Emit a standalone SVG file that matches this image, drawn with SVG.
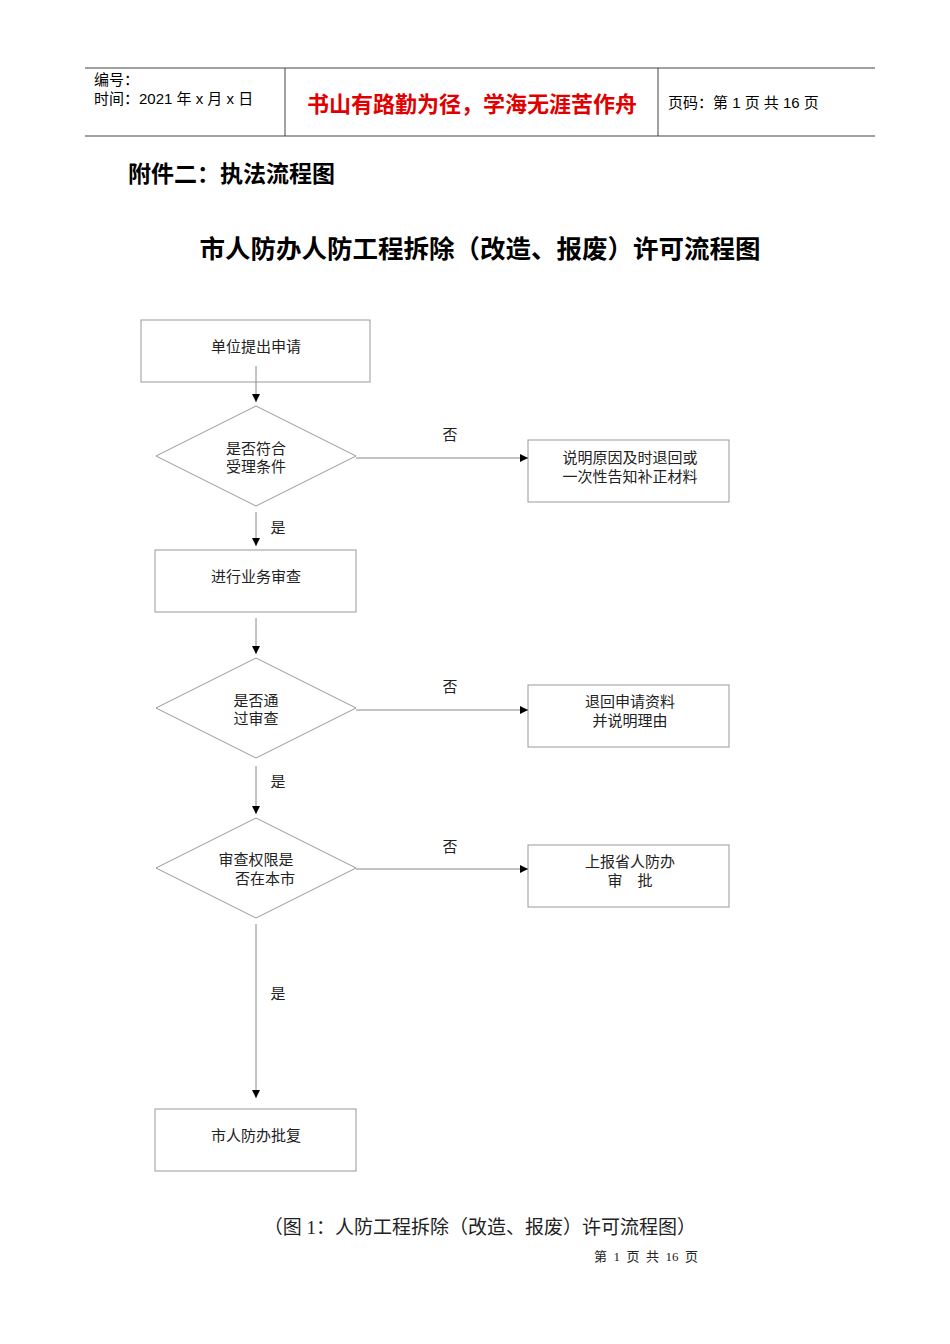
<svg xmlns="http://www.w3.org/2000/svg" width="950" height="1344" viewBox="0 0 950 1344">
<style>
.n{fill:#fff;stroke:#999;stroke-width:1}
.t{font-family:"Liberation Serif","Noto Sans CJK SC",serif;font-size:15px;fill:#222;text-anchor:middle}
.h{font-family:"Liberation Sans","Noto Sans CJK SC",sans-serif;font-size:15px;fill:#000}
.c line{stroke:#888;stroke-width:1;marker-end:url(#a)}
</style>
<defs><marker id="a" viewBox="0 0 10 10" refX="10" refY="5" markerWidth="8" markerHeight="8" orient="auto" markerUnits="userSpaceOnUse"><path d="M0,0L10,5L0,10z" fill="#000"/></marker></defs>
<rect width="950" height="1344" fill="#fff"/>
<g id="header">
<line x1="85" y1="68" x2="875" y2="68" stroke="#444"/>
<line x1="85" y1="136" x2="875" y2="136" stroke="#444"/>
<line x1="285" y1="68" x2="285" y2="136" stroke="#444"/>
<line x1="658" y1="68" x2="658" y2="136" stroke="#444"/>
<text class="h" x="94" y="85">编号：</text>
<text class="h" x="94" y="104">时间：2021 年 x 月 x 日</text>
<text x="472" y="112" text-anchor="middle" font-family="Liberation Sans,Noto Sans CJK SC,sans-serif" font-size="22" fill="#e00000" font-weight="bold">书山有路勤为径，学海无涯苦作舟</text>
<text class="h" x="668" y="108">页码：第 1 页  共 16 页</text>
</g>
<text x="128" y="182" font-family="Noto Sans CJK SC,sans-serif" font-size="23" font-weight="bold" fill="#000">附件二：执法流程图</text>
<text x="480" y="258" text-anchor="middle" font-family="Noto Sans CJK SC,serif" font-size="25.5" font-weight="bold" fill="#000">市人防办人防工程拆除（改造、报废）许可流程图</text>
<g id="n1"><rect class="n" x="141" y="320" width="229" height="62"/><text class="t" x="256" y="352">单位提出申请</text></g>
<g id="d1"><polygon class="n" points="256,406 356,456 256,506 156,456"/><text class="t" x="256" y="454">是否符合</text><text class="t" x="256" y="472">受理条件</text></g>
<g id="r1"><rect class="n" x="528" y="440" width="201" height="62"/><text class="t" x="630" y="463">说明原因及时退回或</text><text class="t" x="630" y="482">一次性告知补正材料</text></g>
<g id="n2"><rect class="n" x="155" y="550" width="201" height="62"/><text class="t" x="256" y="582">进行业务审查</text></g>
<g id="d2"><polygon class="n" points="256,658 356,708 256,758 156,708"/><text class="t" x="256" y="706">是否通</text><text class="t" x="256" y="724">过审查</text></g>
<g id="r2"><rect class="n" x="528" y="685" width="201" height="62"/><text class="t" x="630" y="707">退回申请资料</text><text class="t" x="630" y="726">并说明理由</text></g>
<g id="d3"><polygon class="n" points="256,818 356,868 256,918 156,868"/><text class="t" x="256" y="865">审查权限是</text><text class="t" x="265" y="884">否在本市</text></g>
<g id="r3"><rect class="n" x="528" y="845" width="201" height="62"/><text class="t" x="630" y="867">上报省人防办</text><text class="t" x="630" y="886" xml:space="preserve">审    批</text></g>
<g id="n3"><rect class="n" x="155" y="1109" width="201" height="62"/><text class="t" x="256" y="1141">市人防办批复</text></g>
<g class="c" id="connectors">
<line x1="256" y1="366" x2="256" y2="402"/>
<line x1="356" y1="458" x2="528" y2="458"/>
<line x1="256" y1="512" x2="256" y2="546"/>
<line x1="256" y1="618" x2="256" y2="654"/>
<line x1="356" y1="710" x2="528" y2="710"/>
<line x1="256" y1="766" x2="256" y2="814"/>
<line x1="356" y1="869" x2="528" y2="869"/>
<line x1="256" y1="924" x2="256" y2="1098"/>
<text class="t" x="450" y="440">否</text>
<text class="t" x="278" y="533">是</text>
<text class="t" x="450" y="692">否</text>
<text class="t" x="278" y="787">是</text>
<text class="t" x="450" y="852">否</text>
<text class="t" x="278" y="999">是</text>
</g>
<text x="480" y="1234" text-anchor="middle" font-family="Liberation Serif,Noto Sans CJK SC,serif" font-size="19" fill="#222">（图 1：人防工程拆除（改造、报废）许可流程图）</text>
<text x="646" y="1261" text-anchor="middle" font-family="Liberation Serif,Noto Sans CJK SC,serif" font-size="13" fill="#222" xml:space="preserve">第  1  页  共  16  页</text>
</svg>
